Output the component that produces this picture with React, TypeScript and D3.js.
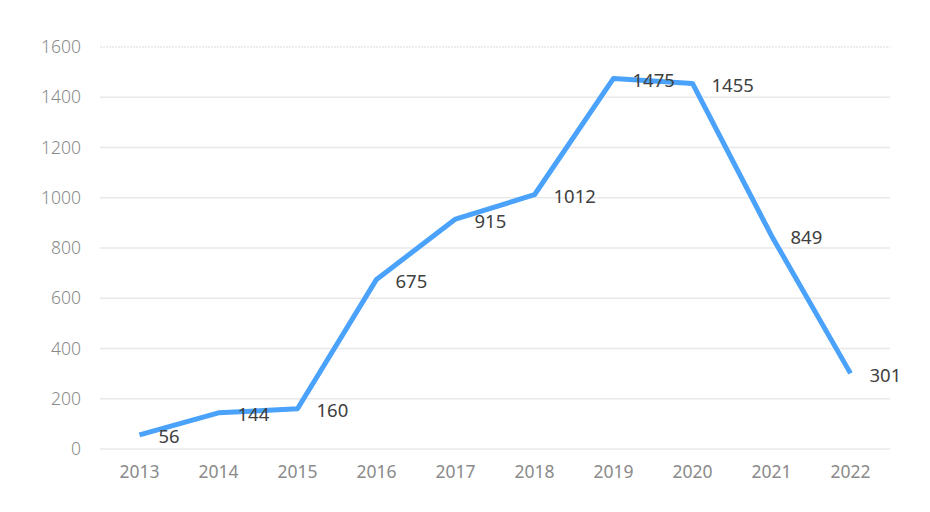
import React from "react";
import * as d3 from "d3";

const years = ["2013", "2014", "2015", "2016", "2017", "2018", "2019", "2020", "2021", "2022"];
const values = [56, 144, 160, 675, 915, 1012, 1475, 1455, 849, 301];
const yTicks = [0, 200, 400, 600, 800, 1000, 1200, 1400, 1600];

const W = 930, H = 512;
const M = { left: 100, right: 40, top: 47, bottom: 63 };

export default function App() {
  const x = d3.scaleBand<string>().domain(years).range([M.left, W - M.right]);
  const y = d3.scaleLinear().domain([0, 1600]).range([H - M.bottom, M.top]);
  const cx = (d: string) => (x(d) as number) + x.bandwidth() / 2;
  const line = d3.line<number>().x((_, i) => cx(years[i])).y((v) => y(v));
  return (
    <svg width={W} height={H} style={{ position: "absolute", left: 0, top: 0, background: "#fff" }}>
      {yTicks.map((t) => (
        <g key={t}>
          <line x1={M.left} x2={W - M.right} y1={y(t)} y2={y(t)} stroke="#e8e8e8" strokeWidth={1.5}
            strokeDasharray={t === 1600 ? "2,1" : undefined} />
          <text x={81} y={y(t)} dy="0.35em" textAnchor="end" fontSize={17.5} fill="#8a8a8a"
            fontFamily="'Noto Sans', sans-serif" fontWeight={300}>{t}</text>
        </g>
      ))}
      {years.map((yr) => (
        <text key={yr} x={cx(yr)} y={472} dy="0.35em" textAnchor="middle" fontSize={17.5} fill="#8a8a8a"
          fontFamily="'Noto Sans', sans-serif">{yr}</text>
      ))}
      <path d={line(values) || ""} fill="none" stroke="#4aa2fb" strokeWidth={5} strokeLinejoin="round" strokeLinecap="butt" />
      {values.map((v, i) => (
        <text key={i} x={cx(years[i]) + 19} y={y(v) + 2} dy="0.35em" fontSize={18.5} fill="#404040"
          fontFamily="'Noto Sans', sans-serif">{v}</text>
      ))}
    </svg>
  );
}
